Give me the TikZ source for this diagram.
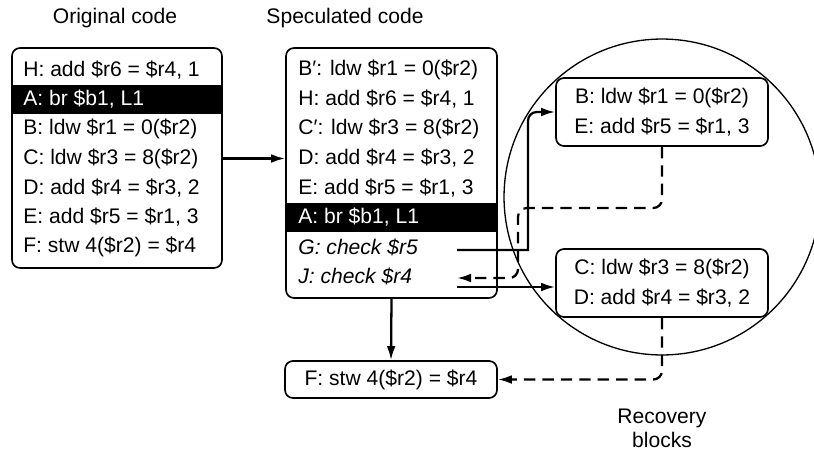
\documentclass[tikz,border=0pt]{standalone}
\usepackage{fontspec}
\setmainfont{Liberation Sans}
\usetikzlibrary{arrows.meta}

\begin{document}
\begin{tikzpicture}[x=0.02cm, y=-0.02cm,
  every node/.style={font=\fontsize{12}{13.5}\selectfont},
  codeline/.style={anchor=west, inner sep=0pt},
  codebox/.style={draw, line width=0.95pt, rounded corners=4.5pt, inner sep=0pt},
  recbox/.style={codebox, align=center, font=\fontsize{12}{17}\selectfont},
  arr/.style={-{Latex[length=8pt,width=5pt]}, line width=1.3pt},
  dasharr/.style={-{Latex[length=8pt,width=5pt]}, line width=1.3pt, dash pattern=on 6.5pt off 4pt, rounded corners=5pt}]
\useasboundingbox (0,0) rectangle (814,450);

% titles
\node (origtitle) at (115,18) {Original code};
\node (spectitle) at (345,18) {Speculated code};
\node[align=center] (rectitle) at (662,428) {Recovery\\blocks};

% original code
\fill (12,85) rectangle (222,114);
\node[codebox, minimum width=4.2cm, minimum height=4.4cm] (orig) at (117,158) {};
\node[codeline] (o-H) at (23,70) {H: add \$r6 = \$r4, 1};
\node[codeline, text=white] (o-A) at (23,99.5) {A: br \$b1, L1};
\node[codeline] (o-B) at (23,129) {B: ldw \$r1 = 0(\$r2)};
\node[codeline] (o-C) at (23,158.5) {C: ldw \$r3 = 8(\$r2)};
\node[codeline] (o-D) at (23,188) {D: add \$r4 = \$r3, 2};
\node[codeline] (o-E) at (23,217.5) {E: add \$r5 = \$r1, 3};
\node[codeline] (o-F) at (23,247) {F: stw 4(\$r2) = \$r4};

% speculated code
\fill (286,203) rectangle (497,232);
\node[codebox, minimum width=4.22cm, minimum height=5cm] (spec) at (391.5,173) {};
\node[codeline] (s-B) at (298,70) {B′: ldw \$r1 = 0(\$r2)};
\node[codeline] (s-H) at (298,99.5) {H: add \$r6 = \$r4, 1};
\node[codeline] (s-C) at (298,129) {C′: ldw \$r3 = 8(\$r2)};
\node[codeline] (s-D) at (298,158.5) {D: add \$r4 = \$r3, 2};
\node[codeline] (s-E) at (298,188) {E: add \$r5 = \$r1, 3};
\node[codeline, text=white] (s-A) at (298,217.5) {A: br \$b1, L1};
\node[codeline, font=\fontsize{12}{13.5}\selectfont\itshape] (s-G) at (298,247) {G: check \$r5};
\node[codeline, font=\fontsize{12}{13.5}\selectfont\itshape] (s-J) at (298,276.5) {J: check \$r4};

\node[codebox, minimum width=4.24cm, minimum height=0.74cm] (fbox) at (391,379.5) {F: stw 4(\$r2) = \$r4};

% recovery blocks
\draw[line width=0.75pt] (662,197) circle (3.16cm);
\node[recbox, minimum width=4.24cm, minimum height=1.36cm] (rec1) at (662,112) {B: ldw \$r1 = 0(\$r2)\\E: add \$r5 = \$r1, 3};
\node[recbox, minimum width=4.24cm, minimum height=1.36cm] (rec2) at (662,283) {C: ldw \$r3 = 8(\$r2)\\D: add \$r4 = \$r3, 2};

\coordinate (gout) at (457,250);
\coordinate (jout) at (457,287);
\coordinate (jin) at (457,278);

\draw[arr] (orig.east |- o-C) -- (spec.west |- o-C);
\draw[arr] (spec.south) -- (fbox.north);
\draw[arr] (gout) -- (528,250) [rounded corners=5pt] -- (528,112) -- (rec1.west);
\draw[arr] (jout) -- (jout -| rec2.west);
\draw[dasharr] (rec1.south) |- (518,208) -- (518,278) -- (jin);
\draw[dasharr] (rec2.south) |- (fbox.east);

\end{tikzpicture}
\end{document}
